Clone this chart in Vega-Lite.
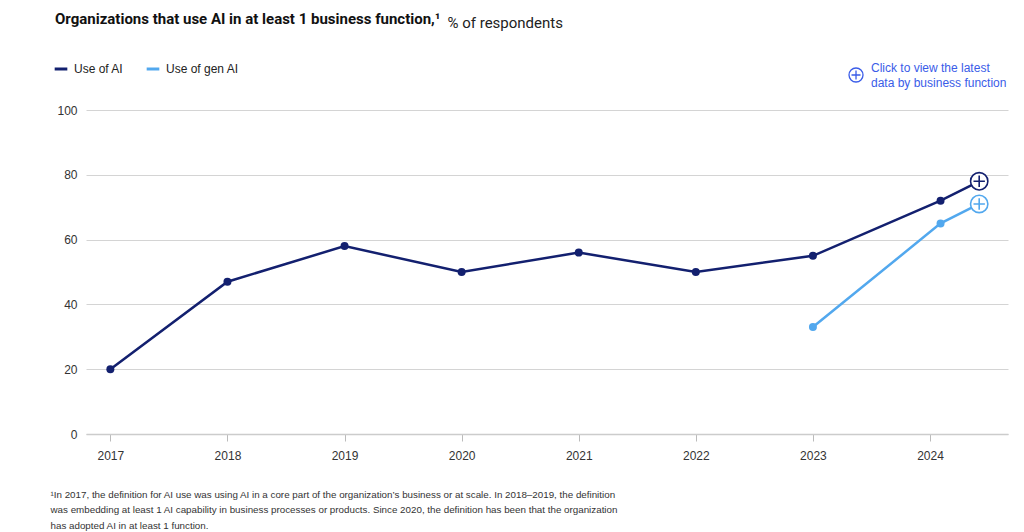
{
  "$schema": "https://vega.github.io/schema/vega-lite/v6.json",
  "width": 922,
  "height": 324,
  "autosize": {"type": "none"},
  "padding": {"left": 86, "top": 110, "right": 16, "bottom": 98},
  "background": "white",
  "config": {
    "view": {"stroke": null},
    "font": "Liberation Sans, Arial, sans-serif"
  },
  "title": {
    "text": "Organizations that use AI in at least 1 business function,¹",
    "anchor": "start",
    "frame": "group",
    "dx": -31,
    "offset": -12,
    "font": "Roboto",
    "fontSize": 15,
    "fontWeight": "bold",
    "color": "#111111"
  },
  "datasets": {
    "series": [
      {"year": 2017, "pct": 20, "series": "Use of AI"},
      {"year": 2018, "pct": 47, "series": "Use of AI"},
      {"year": 2019, "pct": 58, "series": "Use of AI"},
      {"year": 2020, "pct": 50, "series": "Use of AI"},
      {"year": 2021, "pct": 56, "series": "Use of AI"},
      {"year": 2022, "pct": 50, "series": "Use of AI"},
      {"year": 2023, "pct": 55, "series": "Use of AI"},
      {"year": 2024.09, "pct": 72, "series": "Use of AI"},
      {"year": 2024.42, "pct": 78, "series": "Use of AI"},
      {"year": 2023, "pct": 33, "series": "Use of gen AI"},
      {"year": 2024.09, "pct": 65, "series": "Use of gen AI"},
      {"year": 2024.42, "pct": 71, "series": "Use of gen AI"}
    ],
    "link": [
      {"note": "Click to view the latest data by business function"}
    ]
  },
  "layer": [
    {
      "data": {"name": "series"},
      "encoding": {
        "x": {
          "field": "year",
          "type": "quantitative",
          "scale": {"domain": [2016.792, 2024.666], "nice": false, "zero": false},
          "axis": {
            "values": [2017, 2018, 2019, 2020, 2021, 2022, 2023, 2024],
            "format": "d",
            "grid": false,
            "domain": true,
            "domainColor": "#cccccc",
            "domainWidth": 1.5,
            "ticks": true,
            "tickColor": "#bbbbbb",
            "tickSize": 7,
            "labelFontSize": 12,
            "labelColor": "#333333",
            "labelPadding": 9,
            "title": [
              "¹In 2017, the definition for AI use was using AI in a core part of the organization’s business or at scale. In 2018–2019, the definition",
              "\u00a0was embedding at least 1 AI capability in business processes or products. Since 2020, the definition has been that the organization",
              "\u00a0has adopted AI in at least 1 function."
            ],
            "titleX": -36,
            "titleY": 63,
            "titleAlign": "left",
            "titleAnchor": "start",
            "titleBaseline": "alphabetic",
            "titleFontSize": 9.8,
            "titleFontWeight": "normal",
            "titleColor": "#333333",
            "titleLineHeight": 15.5
          }
        },
        "y": {
          "field": "pct",
          "type": "quantitative",
          "scale": {"domain": [0, 100], "nice": false},
          "axis": {
            "values": [0, 20, 40, 60, 80, 100],
            "grid": true,
            "gridColor": "#d4d4d4",
            "domain": false,
            "ticks": false,
            "labelFontSize": 12,
            "labelColor": "#333333",
            "labelPadding": 9,
            "title": "% of respondents",
            "titleAngle": 0,
            "titleAlign": "left",
            "titleBaseline": "alphabetic",
            "titleX": 361,
            "titleY": -83,
            "titleFont": "Roboto",
            "titleFontSize": 15,
            "titleFontWeight": "normal",
            "titleColor": "#222222"
          }
        }
      },
      "layer": [
        {
          "mark": {"type": "line", "strokeWidth": 2.5},
          "encoding": {
            "color": {
              "field": "series",
              "type": "nominal",
              "scale": {"domain": ["Use of AI", "Use of gen AI"], "range": ["#13206f", "#52a8ee"]},
              "legend": {
                "orient": "none",
                "legendX": -33,
                "legendY": -49,
                "direction": "horizontal",
                "title": null,
                "symbolType": "stroke",
                "symbolStrokeWidth": 3,
                "symbolSize": 160,
                "labelFontSize": 12,
                "labelColor": "#222222",
                "labelOffset": 5,
                "columnPadding": 16
              }
            }
          }
        },
        {
          "transform": [
            {"joinaggregate": [{"op": "max", "field": "year", "as": "maxYear"}], "groupby": ["series"]},
            {"filter": "datum.year < datum.maxYear"}
          ],
          "mark": {"type": "point", "filled": true, "opacity": 1, "size": 64},
          "encoding": {"color": {"field": "series", "type": "nominal", "legend": null}}
        },
        {
          "transform": [
            {"joinaggregate": [{"op": "max", "field": "year", "as": "maxYear"}], "groupby": ["series"]},
            {"filter": "datum.year == datum.maxYear"}
          ],
          "mark": {"type": "point", "filled": false, "fill": "white", "fillOpacity": 1, "opacity": 1, "size": 300, "strokeWidth": 1.6},
          "encoding": {"stroke": {"field": "series", "type": "nominal", "scale": {"domain": ["Use of AI", "Use of gen AI"], "range": ["#13206f", "#52a8ee"]}, "legend": null}}
        },
        {
          "transform": [
            {"joinaggregate": [{"op": "max", "field": "year", "as": "maxYear"}], "groupby": ["series"]},
            {"filter": "datum.year == datum.maxYear"}
          ],
          "mark": {"type": "point", "shape": "M-1,0H1M0,-1V1", "filled": false, "opacity": 1, "size": 130, "strokeWidth": 1.6},
          "encoding": {"stroke": {"field": "series", "type": "nominal", "legend": null}}
        }
      ]
    },
    {
      "data": {"name": "link"},
      "mark": {"type": "point", "shape": "circle", "filled": false, "clip": false, "stroke": "#3a5ce8", "opacity": 1, "size": 196, "strokeWidth": 1.3},
      "encoding": {"x": {"datum": 2023.368, "type": "quantitative"}, "y": {"datum": 110.8, "type": "quantitative"}}
    },
    {
      "data": {"name": "link"},
      "mark": {"type": "point", "shape": "M-1,0H1M0,-1V1", "filled": false, "clip": false, "stroke": "#3a5ce8", "opacity": 1, "size": 81, "strokeWidth": 1.3},
      "encoding": {"x": {"datum": 2023.368, "type": "quantitative"}, "y": {"datum": 110.8, "type": "quantitative"}}
    },
    {
      "data": {"name": "link"},
      "mark": {
        "type": "text",
        "clip": false,
        "align": "left",
        "baseline": "alphabetic",
        "fontSize": 12,
        "lineHeight": 15,
        "color": "#3a5ce8"
      },
      "encoding": {
        "x": {"datum": 2023.496, "type": "quantitative"},
        "y": {"datum": 111.7, "type": "quantitative"},
        "text": {"value": ["Click to view the latest", "data by business function"]}
      }
    }
  ]
}
